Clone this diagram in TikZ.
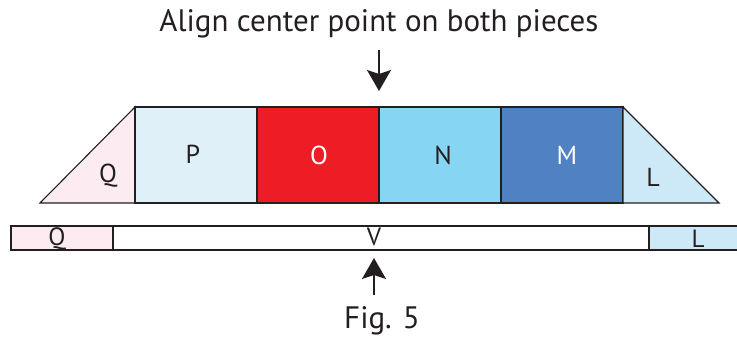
\documentclass[tikz,border=0pt]{standalone}
\usepackage{fontspec}
\setmainfont{PT Sans}
\usetikzlibrary{arrows.meta}
\definecolor{inkdark}{HTML}{231F20}
\definecolor{qpink}{HTML}{FCEBF1}
\definecolor{ppale}{HTML}{DFF0F8}
\definecolor{ored}{HTML}{EE1C25}
\definecolor{nsky}{HTML}{86D5F2}
\definecolor{mblue}{HTML}{4F81C3}
\definecolor{lpale}{HTML}{CDE9F8}
\tikzset{
  piece/.style = {draw=inkdark, line width=1.1pt},
  tag/.style = {font=\fontsize{26}{26}\selectfont, text=inkdark, inner sep=0pt},
  striptag/.style = {font=\fontsize{25}{25}\selectfont, text=inkdark, inner sep=0pt},
  pointer/.style = {inkdark, line width=2pt, -{Stealth[length=21pt,width=24pt,inset=4pt]}}
}
\begin{document}
\begin{tikzpicture}[x=1pt, y=-1pt]
            \useasboundingbox (0,0) rectangle (737,339);
            % upper piece
            \filldraw[piece, fill=qpink] (40,203) -- (135,107) -- (135,203) -- cycle;
            \filldraw[piece, fill=ppale] (135,107) rectangle (257,203);
            \filldraw[piece, fill=ored] (257,107) rectangle (379,203);
            \filldraw[piece, fill=nsky] (379,107) rectangle (501,203);
            \filldraw[piece, fill=mblue] (501,107) rectangle (623,203);
            \filldraw[piece, fill=lpale] (623,107) -- (719,203) -- (623,203) -- cycle;
            \node[tag] (qtop) at (108,176) {Q};
            \node[tag] (p) at (193,154) {P};
            \node[tag, text=white] (o) at (319,155) {O};
            \node[tag] (n) at (443,155) {N};
            \node[tag, text=white] (m) at (567,155) {M};
            \node[tag] (ltop) at (653,177) {L};
            % lower strip
            \filldraw[piece, fill=qpink] (11,226) rectangle (113,250);
            \draw[piece] (113,226) rectangle (649,250);
            \fill[lpale] (649,226) rectangle (737,250);
            \draw[piece] (737,226) -- (649,226) -- (649,250) -- (737,250);
            \node[striptag] (qbot) at (57,239) {Q};
            \node[striptag] (v) at (374,237) {V};
            \node[striptag] (lbot) at (698,239) {L};
            % center marks
            \node[font=\fontsize{31}{31}\selectfont, text=inkdark] (title) at (379,24) {Align center point on both pieces};
            \node[font=\fontsize{31}{31}\selectfont, text=inkdark] (fig) at (382,321) {Fig. 5};
            \coordinate (topstart) at (379,50);
            \coordinate (topend) at (379,91);
            \coordinate (botstart) at (374,295);
            \coordinate (botend) at (374,258);
            \draw[pointer] (topstart) -- (topend);
            \draw[pointer] (botstart) -- (botend);

        \end{tikzpicture}
\end{document}
